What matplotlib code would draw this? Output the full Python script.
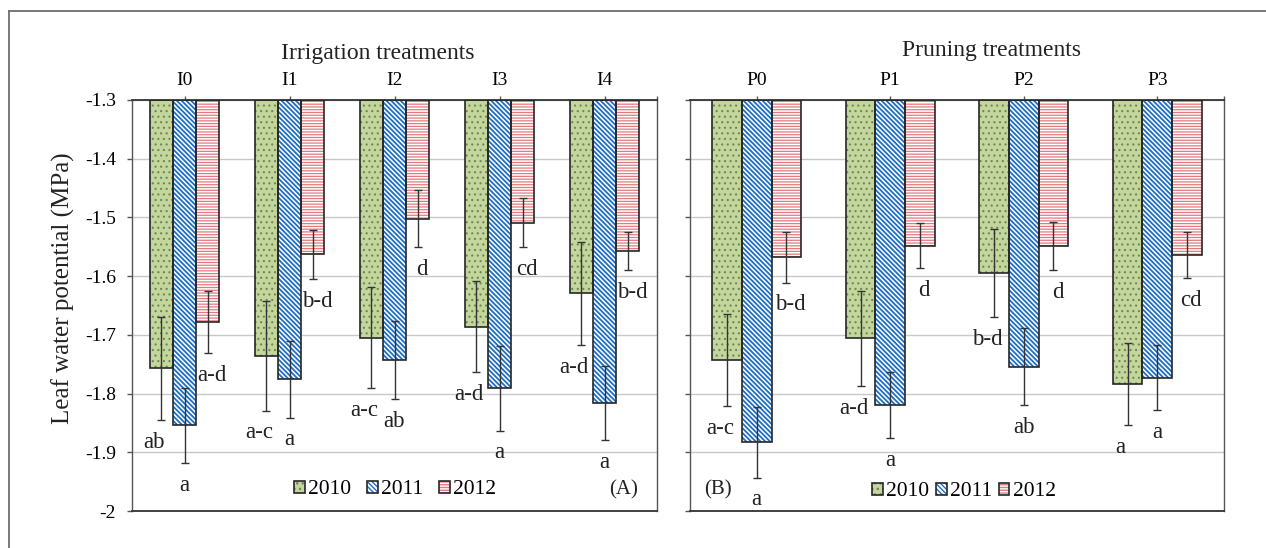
import matplotlib
matplotlib.use("Agg")
import matplotlib.pyplot as plt
import numpy as np
from matplotlib.lines import Line2D
from matplotlib.patches import Patch

plt.rcParams["font.family"] = ["Liberation Serif", "DejaVu Serif"]
plt.rcParams["hatch.linewidth"] = 1.0

# ---------------------------------------------------------------------------
# data
# ---------------------------------------------------------------------------
years = ["2010", "2011", "2012"]

irr_labels = ["I0", "I1", "I2", "I3", "I4"]
irr_2010 = [-1.757, -1.736, -1.705, -1.686, -1.629]
irr_2011 = [-1.854, -1.776, -1.743, -1.791, -1.816]
irr_2012 = [-1.678, -1.563, -1.502, -1.509, -1.557]
irr_err_2010 = [0.088, 0.093, 0.086, 0.078, 0.088]
irr_err_2011 = [0.064, 0.065, 0.067, 0.072, 0.063]
irr_err_2012 = [0.053, 0.042, 0.048, 0.042, 0.033]
irr_sig_2010 = ["ab", "a-c", "a-c", "a-d", "a-d"]
irr_sig_2011 = ["a", "a", "ab", "a", "a"]
irr_sig_2012 = ["a-d", "b-d", "d", "cd", "b-d"]

prun_labels = ["P0", "P1", "P2", "P3"]
prun_2010 = [-1.743, -1.706, -1.595, -1.784]
prun_2011 = [-1.883, -1.820, -1.754, -1.773]
prun_2012 = [-1.568, -1.548, -1.549, -1.564]
prun_err_2010 = [0.078, 0.081, 0.075, 0.070]
prun_err_2011 = [0.060, 0.056, 0.066, 0.055]
prun_err_2012 = [0.043, 0.038, 0.041, 0.040]
prun_sig_2010 = ["a-c", "a-d", "b-d", "a"]
prun_sig_2011 = ["a", "a", "ab", "a"]
prun_sig_2012 = ["b-d", "d", "d", "cd"]

y_top, y_bottom = -1.3, -2.0

# ---------------------------------------------------------------------------
# styles
# ---------------------------------------------------------------------------
EDGE = "#262626"
STYLES = [
    dict(face="#c3d69b", hatch="...", hcolor="#74845a", hlw=0.8),          # 2010 dotted green
    dict(face="white", hatch="\\" * 7, hcolor="#1f6fc5", hlw=1.3),         # 2011 blue diagonal
    dict(face="white", hatch="-" * 6, hcolor="#e27a80", hlw=0.9),          # 2012 red horizontal
]
LABEL_DX = [-5, 0, 3]  # small horizontal nudges of letters per year (points)
BAR_W = 0.222


def set_hlw(artist, lw):
    if hasattr(artist, "set_hatch_linewidth"):
        artist.set_hatch_linewidth(lw)


def draw_panel(ax, cats, series, errs, sigs):
    x = np.arange(len(cats))
    for i, (vals, err, sig, st) in enumerate(zip(series, errs, sigs, STYLES)):
        xs = x + (i - 1) * BAR_W
        heights = np.array(vals) - y_top
        bars = ax.bar(xs, heights, BAR_W, bottom=y_top, color=st["face"],
                      hatch=st["hatch"], edgecolor=st["hcolor"], linewidth=0, zorder=2)
        for b in bars:
            set_hlw(b, st["hlw"])
        ax.bar(xs, heights, BAR_W, bottom=y_top, fill=False,
               edgecolor=EDGE, linewidth=1.2, zorder=3)
        ax.errorbar(xs, vals, yerr=err, fmt="none", ecolor="#333333",
                    elinewidth=1.0, capsize=3.2, capthick=1.0, zorder=4)
        for xi, v, e, s in zip(xs, vals, err, sig):
            ax.annotate(s, (xi, v - e), xytext=(LABEL_DX[i], -16),
                        textcoords="offset points", ha="center", va="center",
                        fontsize=16.5, color="#222222", zorder=5)

    ax.set_xlim(-0.5, len(cats) - 0.5)
    ax.set_ylim(y_bottom, y_top)
    ax.set_yticks(np.round(np.arange(y_bottom, y_top + 0.001, 0.1), 1))
    ax.yaxis.grid(True, color="#c8c8c8", linewidth=1.0, zorder=0)
    ax.set_axisbelow(True)

    ax.xaxis.tick_top()
    ax.set_xticks(x)
    ax.set_xticklabels(cats)
    ax.set_xticks([len(cats) - 0.5], minor=True)
    ax.tick_params(axis="x", which="both", direction="out", length=3,
                   width=1, color="#555555", pad=5, labelsize=14)
    ax.tick_params(axis="y", direction="out", length=3.6, width=1,
                   color="#555555", pad=8, labelsize=14)
    for side in ["top", "bottom"]:
        ax.spines[side].set_color("#333333")
        ax.spines[side].set_linewidth(1.3)
    for side in ["left", "right"]:
        ax.spines[side].set_color("#555555")
        ax.spines[side].set_linewidth(1.0)


W, H = 1266, 548
fig = plt.figure(figsize=(W / 100, H / 100), dpi=100)

ax1 = fig.add_axes([132 / W, 37 / H, 525 / W, 411 / H])
ax2 = fig.add_axes([690 / W, 37 / H, 534 / W, 411 / H])

draw_panel(ax1, irr_labels, [irr_2010, irr_2011, irr_2012],
           [irr_err_2010, irr_err_2011, irr_err_2012],
           [irr_sig_2010, irr_sig_2011, irr_sig_2012])
draw_panel(ax2, prun_labels, [prun_2010, prun_2011, prun_2012],
           [prun_err_2010, prun_err_2011, prun_err_2012],
           [prun_sig_2010, prun_sig_2011, prun_sig_2012])

ax1.set_yticklabels([f"{t:g}" for t in ax1.get_yticks()])
ax2.tick_params(axis="y", labelleft=False)

fig.text(63 / W, 1 - 288 / H, "Leaf water potential (MPa)", rotation=90,
         ha="center", va="center", fontsize=18, color="#222222")
fig.text(378 / W, 1 - 53 / H, "Irrigation treatments", ha="center",
         va="center", fontsize=17, color="#222222")
fig.text(992 / W, 1 - 50 / H, "Pruning treatments", ha="center",
         va="center", fontsize=17, color="#222222")
fig.text(624 / W, 1 - 490 / H, "(A)", ha="center", va="center",
         fontsize=15, color="#222222")
fig.text(718 / W, 1 - 490 / H, "(B)", ha="center", va="center",
         fontsize=15, color="#222222")

# legend handles: hatched square under a dark outline
handles = []
for st in STYLES:
    under = Patch(facecolor=st["face"], hatch=st["hatch"], edgecolor=st["hcolor"],
                  linewidth=0)
    set_hlw(under, st["hlw"])
    over = Patch(fill=False, edgecolor=EDGE, linewidth=1.2)
    handles.append((under, over))

for anchor, colsp in [((395 / W, 1 - 490 / H), 0.75), ((964 / W, 1 - 492 / H), 0.3)]:
    fig.legend(handles, years, loc="center", bbox_to_anchor=anchor, ncol=3,
               frameon=False, fontsize=15.5, handlelength=0.5, handleheight=0.5,
               handletextpad=0.15, columnspacing=colsp, borderpad=0.1)

# outer frame (top and left edges)
fx = 9 / W
fy = 1 - 11 / H
fig.add_artist(Line2D([fx, 1], [fy, fy], transform=fig.transFigure,
                      color="#6e6e6e", linewidth=1.3))
fig.add_artist(Line2D([fx, fx], [0, fy], transform=fig.transFigure,
                      color="#6e6e6e", linewidth=1.3))

fig.savefig("out.png", dpi=100)
